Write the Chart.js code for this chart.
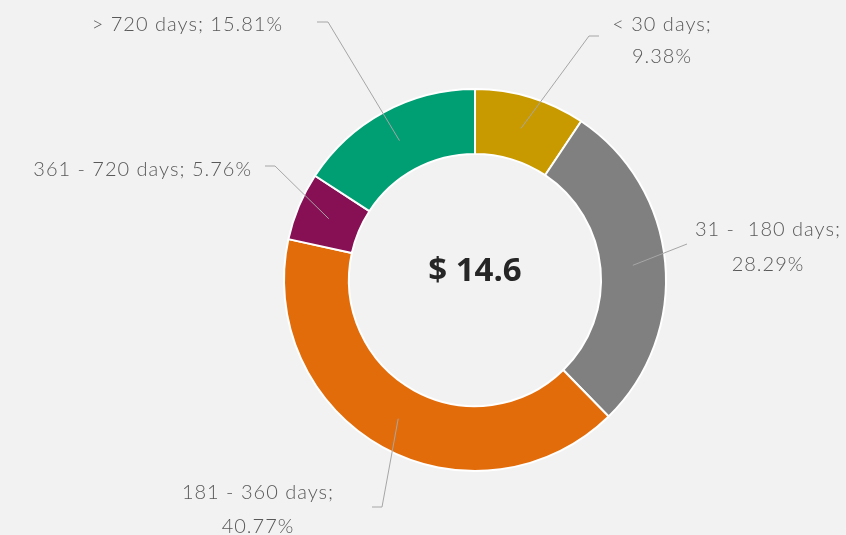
<!DOCTYPE html>
<html>
<head>
<meta charset="utf-8">
<script src="https://cdn.jsdelivr.net/npm/chart.js@4"></script>
<style>
    html, body { margin: 0; padding: 0; background: #f2f2f2; }
    #wrap { width: 846px; height: 535px; }
</style>
</head>
<body>
<div id="wrap"><canvas id="agingChart" width="846" height="535"></canvas></div>
<script>
const categories = ['< 30 days', '31 -  180 days', '181 - 360 days', '361 - 720 days', '> 720 days'];
const shares = [9.38, 28.29, 40.77, 5.76, 15.81];
const sliceColors = ['#c89a00', '#808080', '#e36c0a', '#870f54', '#009e73'];
const centerLabel = '$ 14.6';

// where each callout sits, relative to the doughnut centre
const labelLayout = [
    { elbow: [114, -244], end: [124, -244], x: 187, ys: [-255, -223], align: 'center', split: true },
    { elbow: null, end: [212, -36], x: 293, ys: [-50, -15], align: 'center', split: true },
    { elbow: [-93, 227], end: [-103, 227], x: -217, ys: [213, 247], align: 'center', split: true },
    { elbow: [-200, -114], end: [-210, -114], x: -223, ys: [-110], align: 'right', split: false },
    { elbow: [-147, -258], end: [-158, -258], x: -192, ys: [-255], align: 'right', split: false }
];

const calloutPlugin = {
    id: 'callouts',
    beforeDraw(chart) {
        const ctx = chart.ctx;
        ctx.save();
        ctx.fillStyle = '#f2f2f2';
        ctx.fillRect(0, 0, chart.width, chart.height);
        ctx.restore();
    },
    afterDraw(chart) {
        const ctx = chart.ctx;
        const meta = chart.getDatasetMeta(0);
        ctx.save();
        meta.data.forEach((arc, i) => {
            const p = arc.getProps(['x', 'y', 'startAngle', 'endAngle', 'innerRadius', 'outerRadius'], true);
            const mid = (p.startAngle + p.endAngle) / 2;
            const r = (p.innerRadius + p.outerRadius) / 2;
            const ax = p.x + r * Math.cos(mid);
            const ay = p.y + r * Math.sin(mid);
            const lay = labelLayout[i];

            ctx.strokeStyle = '#a6a6a6';
            ctx.lineWidth = 1;
            ctx.beginPath();
            ctx.moveTo(ax, ay);
            if (lay.elbow) ctx.lineTo(p.x + lay.elbow[0], p.y + lay.elbow[1]);
            ctx.lineTo(p.x + lay.end[0], p.y + lay.end[1]);
            ctx.stroke();

            const pct = shares[i].toFixed(2) + '%';
            const lines = lay.split ? [categories[i] + ';', pct] : [categories[i] + '; ' + pct];
            ctx.fillStyle = '#595959';
            ctx.font = '300 20px Lato, "Open Sans", sans-serif';
            ctx.letterSpacing = '1px';
            ctx.textAlign = lay.align;
            ctx.textBaseline = 'middle';
            lines.forEach((t, k) => ctx.fillText(t, p.x + lay.x, p.y + lay.ys[k]));
        });

        const c = meta.data[0];
        ctx.letterSpacing = '0px';
        ctx.fillStyle = '#262626';
        ctx.font = 'bold 33px "Open Sans", sans-serif';
        ctx.textAlign = 'center';
        ctx.textBaseline = 'middle';
        ctx.fillText(centerLabel, c.x, c.y - 8);
        ctx.restore();
    }
};

new Chart(document.getElementById('agingChart'), {
    type: 'doughnut',
    data: {
        labels: categories,
        datasets: [{
            data: shares,
            backgroundColor: sliceColors,
            borderColor: '#ffffff',
            borderWidth: 2
        }]
    },
    options: {
        responsive: false,
        animation: false,
        cutout: '66%',
        layout: {
            padding: { top: 88, bottom: 63, left: 283, right: 179 }
        },
        plugins: {
            legend: { display: false },
            tooltip: { enabled: false }
        }
    },
    plugins: [calloutPlugin]
});
</script>
</body>
</html>
